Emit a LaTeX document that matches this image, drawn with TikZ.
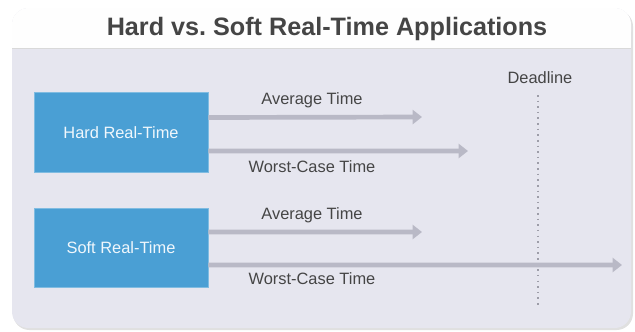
\documentclass[tikz,border=0pt]{standalone}
\usepackage{fontspec}
\setmainfont{Liberation Sans}
\usetikzlibrary{arrows.meta}
\definecolor{panel}{HTML}{E6E6EF}
\definecolor{boxblue}{HTML}{4A9FD4}
\definecolor{arrowgray}{HTML}{B9B9C6}
\definecolor{txtgray}{HTML}{454545}
\tikzset{
  appbox/.style={draw=boxblue!70!white,line width=0.6pt,fill=boxblue,minimum width=5.22cm,minimum height=2.38cm,text=white!92!boxblue,font=\fontsize{14}{16}\selectfont},
  timearrow/.style={arrowgray,line width=4pt,-{Triangle[length=8pt,width=12pt]}},
  timelabel/.style={text=txtgray,font=\fontsize{14}{16}\selectfont}
}
\begin{document}
\begin{tikzpicture}[x=0.03cm,y=-0.03cm]
\useasboundingbox (0,0) rectangle (635,331);
% panel
\fill[black!12,rounded corners=14pt] (13,10) rectangle (633,330);
\fill[panel,rounded corners=14pt] (12,8) rectangle (631,328);
\fill[white!97!panel,rounded corners=14pt] (12,8) -- (12,48) -- (631,48) -- (631,8) -- cycle;
\fill[white!97!panel] (12,30) rectangle (631,48);
\draw[black!15,line width=0.6pt] (12,48) -- (631,48);
\node[font=\bfseries\fontsize{21.5}{24}\selectfont,text=txtgray] (title) at (327,29) {Hard vs.\ Soft Real-Time Applications};
% deadline
\node[timelabel] (deadline) at (540,78) {Deadline};
\coordinate (dtop) at (538,95);
\coordinate (dbot) at (538,305);
\draw[arrowgray!85!black,line width=1.3pt,dash pattern=on 1.3pt off 3.5pt] (dtop) -- (dbot);
% boxes
\node[appbox] (hard) at (121,132.5) {Hard Real-Time};
\node[appbox] (soft) at (121,248) {Soft Real-Time};
% hard arrows
\coordinate (hardavg) at (422,117);
\coordinate (hardworst) at (468,151);
\draw[timearrow] ([yshift=0.45cm]hard.east) -- (hardavg);
\draw[timearrow] ([yshift=-0.555cm]hard.east) -- (hardworst);
\node[timelabel] (hardavglbl) at (312,100) {Average Time};
\node[timelabel] (hardworstlbl) at (312,167) {Worst-Case Time};
% soft arrows
\coordinate (softavg) at (422,232);
\coordinate (softworst) at (622,265);
\draw[timearrow] ([yshift=0.48cm]soft.east) -- (softavg);
\draw[timearrow] ([yshift=-0.51cm]soft.east) -- (softworst);
\node[timelabel] (softavglbl) at (312,215) {Average Time};
\node[timelabel] (softworstlbl) at (312,279) {Worst-Case Time};
\end{tikzpicture}
\end{document}
